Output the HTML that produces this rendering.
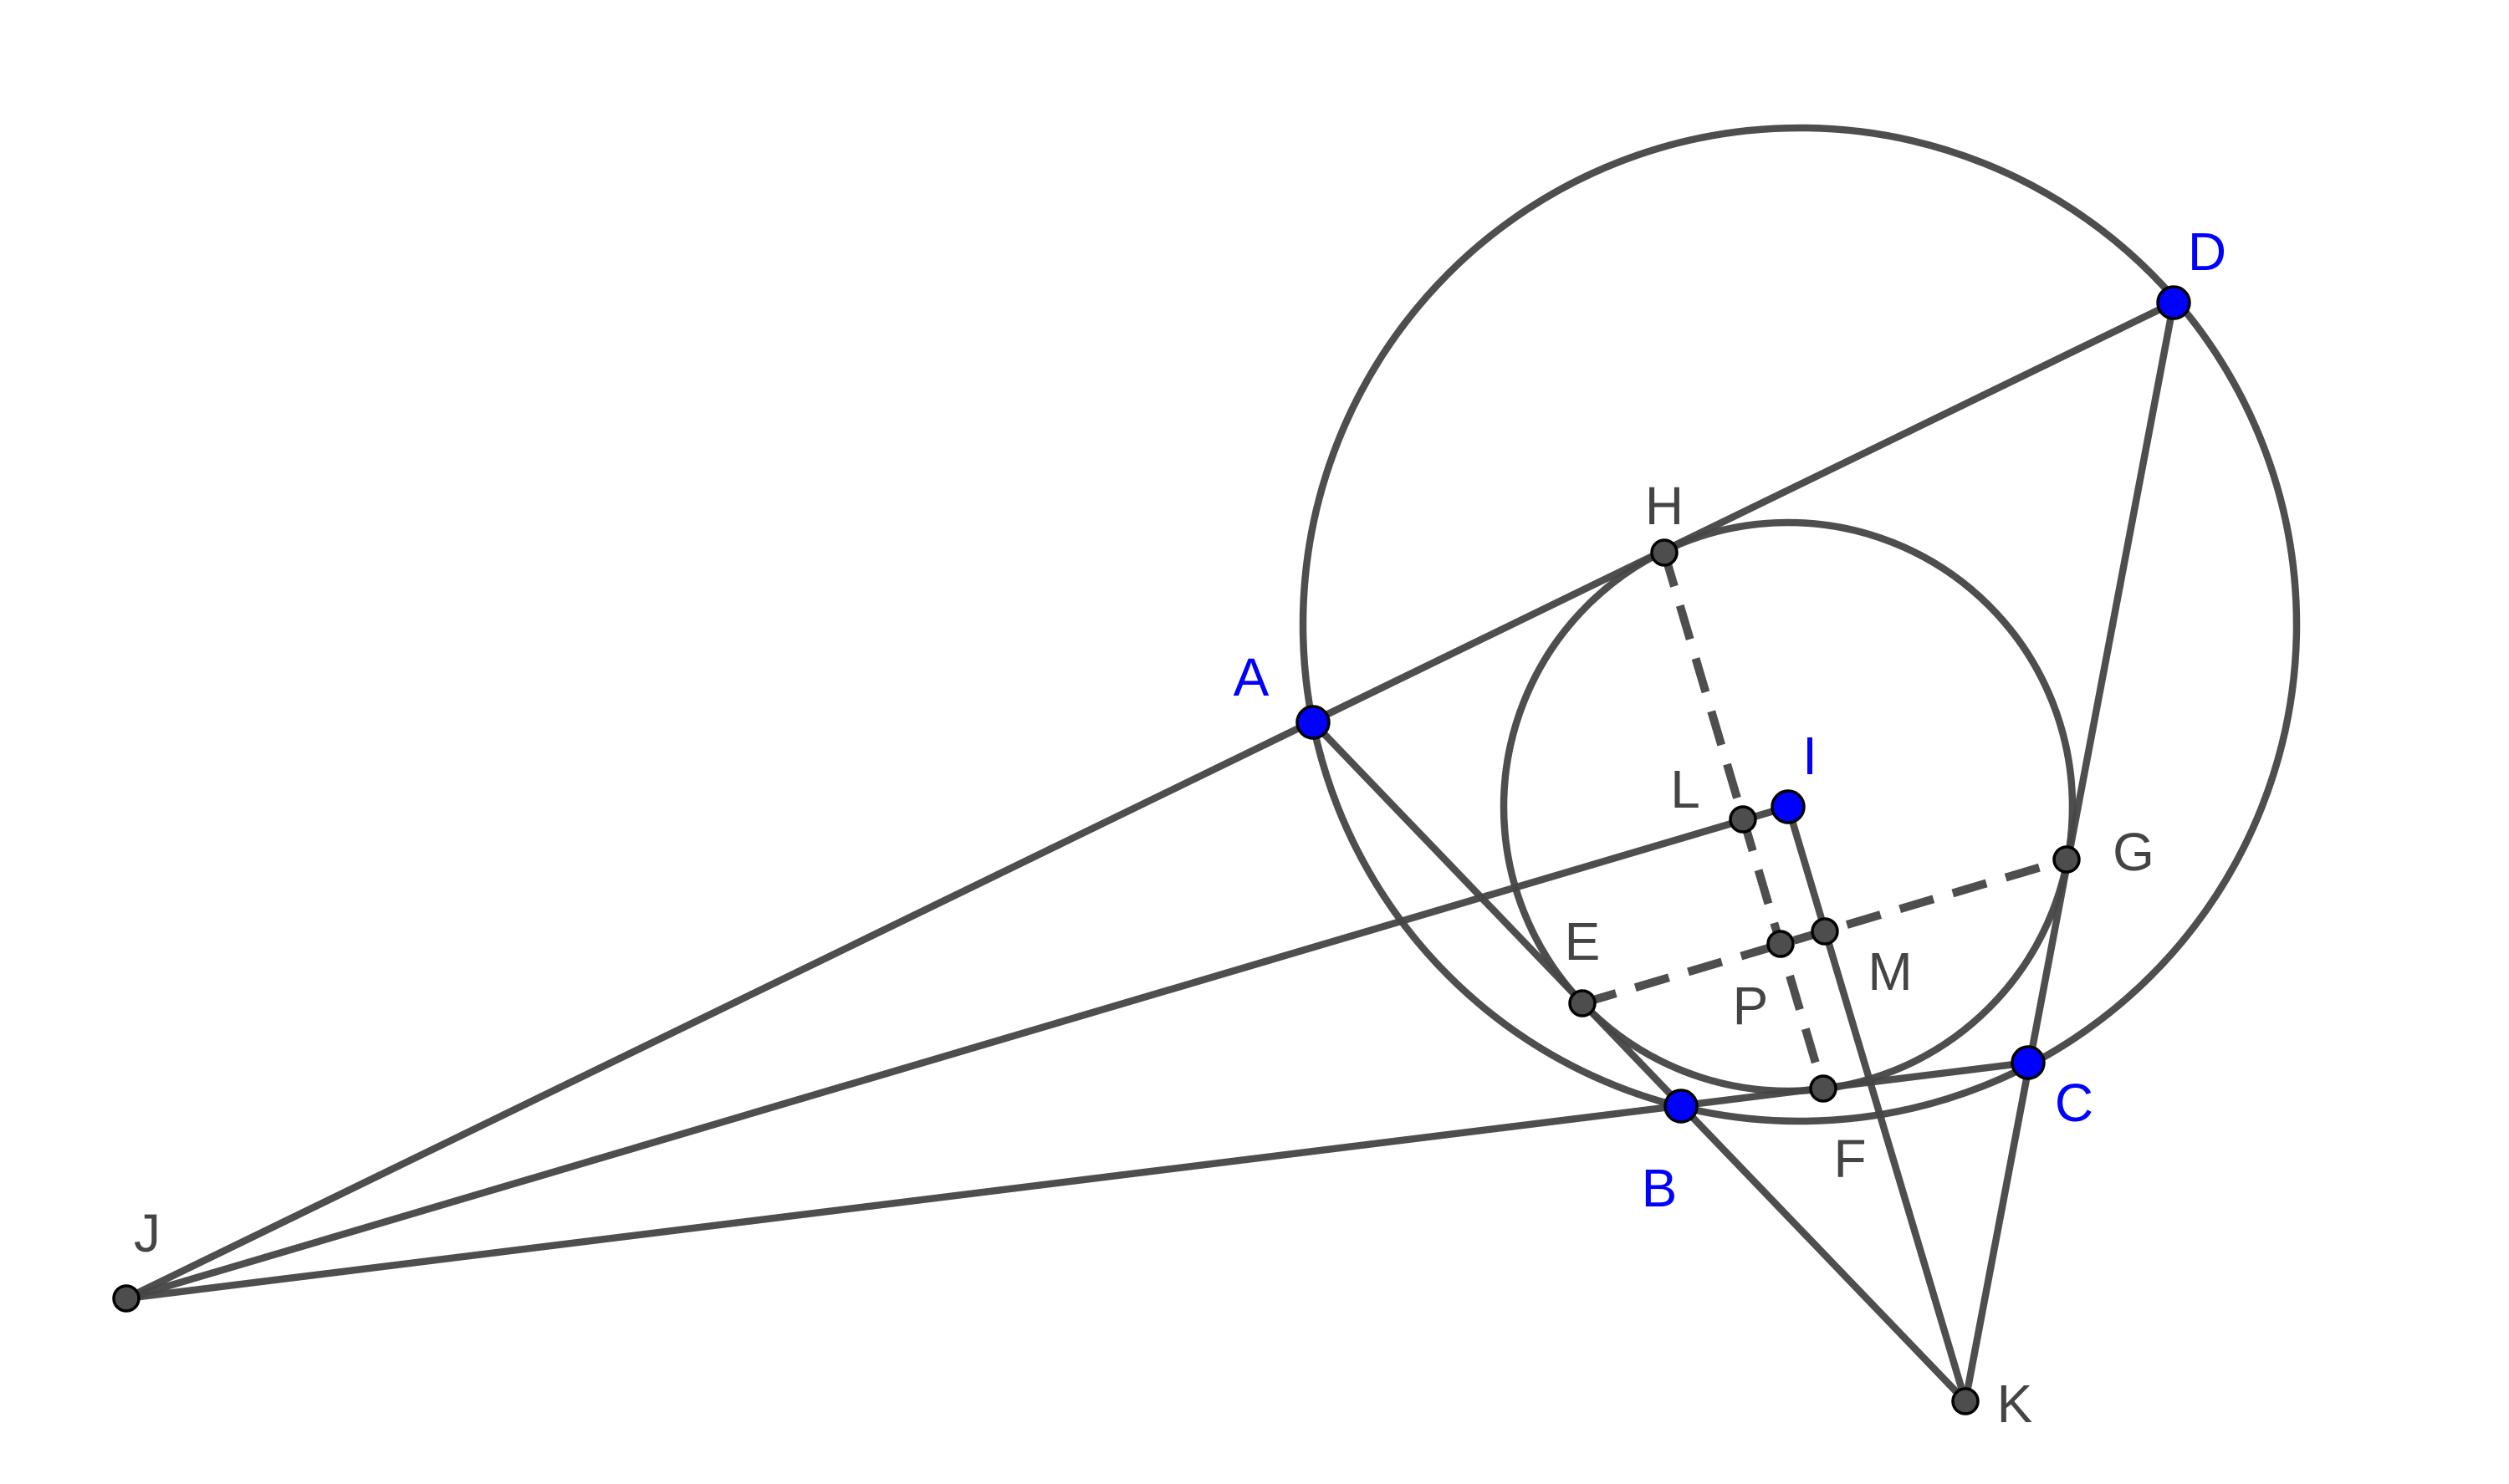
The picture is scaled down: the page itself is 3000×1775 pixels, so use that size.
<!DOCTYPE html>
<html><head><meta charset="utf-8"><style>html,body{margin:0;padding:0;background:#fff}svg{display:block}</style></head><body>
<svg width="3000" height="1775" viewBox="0 0 3000 1775" xmlns="http://www.w3.org/2000/svg">
<g fill="none" stroke="#444" stroke-width="8.5" stroke-opacity="0.95">
<circle cx="2152" cy="747" r="594"/>
<circle cx="2138" cy="965" r="340"/>
<line x1="151" y1="1553" x2="2599" y2="362"/>
<line x1="151" y1="1553" x2="2138" y2="965"/>
<line x1="151" y1="1553" x2="2425" y2="1271"/>
<line x1="1570" y1="864" x2="2350" y2="1676"/>
<line x1="2138" y1="965" x2="2350" y2="1676"/>
<line x1="2599" y1="362" x2="2350" y2="1676"/>
<line x1="1990" y1="661" x2="2180" y2="1302" stroke-width="10" stroke-dasharray="42,24"/>
<line x1="1892" y1="1200" x2="2471" y2="1028" stroke-width="10" stroke-dasharray="42,24"/>
</g>
<g stroke="#000" stroke-width="3.5" fill="#4d4d4d">
<circle cx="1990" cy="661" r="15"/>
<circle cx="151" cy="1553" r="15"/>
<circle cx="2350" cy="1676" r="15"/>
<circle cx="2084" cy="980" r="15"/>
<circle cx="2182" cy="1114" r="15"/>
<circle cx="2129" cy="1129" r="15"/>
<circle cx="1892" cy="1200" r="15"/>
<circle cx="2471" cy="1028" r="15"/>
<circle cx="2180" cy="1302" r="15"/>
</g>
<g stroke="#000" stroke-width="3.5" fill="#0000ff">
<circle cx="1570" cy="864" r="19"/>
<circle cx="2599" cy="362" r="19"/>
<circle cx="2138" cy="965" r="19"/>
<circle cx="2010" cy="1323" r="19"/>
<circle cx="2425" cy="1271" r="19"/>
</g>
<g font-family="Liberation Sans, sans-serif" font-size="64" text-anchor="middle" dominant-baseline="central" fill="#444">
<text x="1990" y="605">H</text>
<text x="2015" y="944">L</text>
<text x="2551" y="1019">G</text>
<text x="1892" y="1126">E</text>
<text x="2260" y="1162">M</text>
<text x="2093" y="1203">P</text>
<text x="2212" y="1386">F</text>
<text x="176" y="1475">J</text>
<text x="2409" y="1679">K</text>
</g>
<g font-family="Liberation Sans, sans-serif" font-size="64" text-anchor="middle" dominant-baseline="central" fill="#0000ff">
<text x="1496" y="810">A</text>
<text x="2639" y="301">D</text>
<text x="2164" y="904">I</text>
<text x="2480" y="1319">C</text>
<text x="1984" y="1421">B</text>
</g>
</svg>
</body></html>
